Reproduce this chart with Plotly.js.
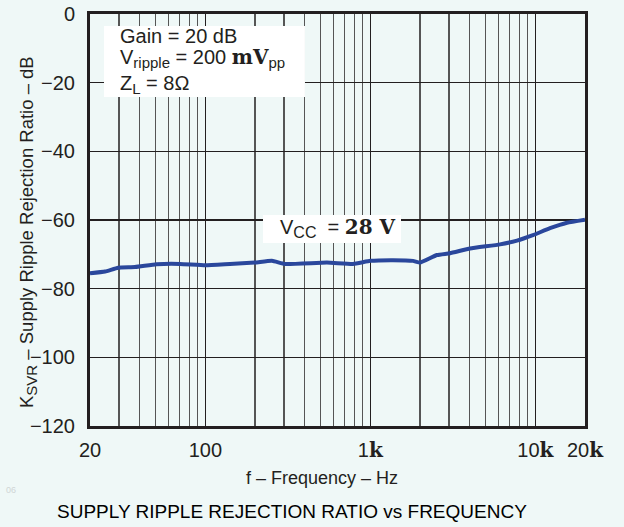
<!DOCTYPE html>
<html>
<head>
<meta charset="utf-8">
<script src="https://cdn.plot.ly/plotly-3.0.1.min.js"></script>
<style>html,body{margin:0;padding:0;background:#eff8f7;}#chart{width:624px;height:527px;}</style>
</head>
<body>
<div id="chart"></div>
<script>
// Data
const freqHz = [20, 24.7, 29.6, 37.5, 50.6, 70, 100, 141, 200, 253, 304, 546, 785, 1000, 1372, 1815, 2000, 2535, 3030, 4020, 6110, 7740, 9680, 12270, 15560, 20000];
const ksvrDb = [-75.5, -75.0, -73.9, -73.7, -72.9, -72.8, -73.2, -72.8, -72.4, -71.9, -72.8, -72.4, -72.8, -71.9, -71.7, -71.9, -72.4, -70.2, -69.7, -68.3, -67.1, -66.0, -64.4, -62.4, -60.8, -59.9];
const xTickVals = [20, 100, 1000, 10000, 20000];
const kB = '<b><span style="font-family:\'DejaVu Serif\'">k</span></b>';
const xTickText = ['20', '100', '1' + kB, '10' + kB, '20' + kB];
const xMinorVals = [30,40,50,60,70,80,90,200,300,400,500,600,700,800,900,2000,3000,4000,5000,6000,7000,8000,9000];
const yTickVals = [-120, -100, -80, -60, -40, -20, 0];

const serifB = (t) => '<b><span style="font-family:\'DejaVu Serif\'">' + t + '</span></b>';
const sub = (t, s) => '<sub><span style="font-size:' + (s || 16) + 'px">' + t + '</span></sub>';
const bg = '#eff8f7';
const ink = '#231f20';
const sans = 'Liberation Sans, Arial, sans-serif';
const narrow = 'Liberation Sans Narrow, Arial Narrow, Liberation Sans, sans-serif';

const trace = {
  x: freqHz, y: ksvrDb, type: 'scatter', mode: 'lines',
  line: {color: '#2a479c', width: 4, shape: 'spline', smoothing: 0.4},
  hoverinfo: 'skip', cliponaxis: true
};

const layout = {
  width: 624, height: 527,
  margin: {l: 90, r: 39, t: 14, b: 101},
  paper_bgcolor: bg, plot_bgcolor: bg,
  showlegend: false,
  font: {family: sans, size: 20, color: ink},
  xaxis: {
    type: 'log', range: [Math.log10(20), Math.log10(20000)],
    tickmode: 'array', tickvals: xTickVals, ticktext: xTickText,
    showgrid: true, gridcolor: ink, gridwidth: 1.3,
    minor: {tickmode: 'array', tickvals: xMinorVals, showgrid: true, gridcolor: '#555', gridwidth: 1.3, ticks: ''},
    showline: true, mirror: true, linecolor: ink, linewidth: 3,
    ticks: '', ticklabelstandoff: 4,
    tickfont: {family: sans, size: 20, color: ink},
    zeroline: false
  },
  yaxis: {
    range: [-120, 0], tickmode: 'array', tickvals: yTickVals,
    showgrid: true, gridcolor: ink, gridwidth: 1.3,
    showline: true, mirror: true, linecolor: ink, linewidth: 3,
    ticks: '', ticklabelstandoff: 8,
    tickfont: {family: sans, size: 20, color: ink},
    zeroline: false
  },
  shapes: [
    {type: 'rect', xref: 'paper', yref: 'paper', x0: 0.0283, x1: 0.4343, y0: 0.7985, y1: 0.9709, fillcolor: '#ffffff', line: {width: 0}, layer: 'above'},
    {type: 'rect', xref: 'paper', yref: 'paper', x0: 0.3495, x1: 0.6283, y0: 0.4442, y1: 0.5121, fillcolor: '#ffffff', line: {width: 0}, layer: 'above'}
  ],
  annotations: [
    {xref: 'paper', yref: 'paper', x: 0.0566, y: 0.9460, xanchor: 'left', yanchor: 'middle', showarrow: false, text: 'Gain = 20 dB', font: {family: sans, size: 20, color: ink}},
    {xref: 'paper', yref: 'paper', x: 0.0566, y: 0.892, xanchor: 'left', yanchor: 'middle', showarrow: false, text: 'V' + sub('ripple', 15) + ' = 200 ' + serifB('mV') + sub('pp', 15), font: {family: sans, size: 20, color: ink}},
    {xref: 'paper', yref: 'paper', x: 0.0566, y: 0.830, xanchor: 'left', yanchor: 'middle', showarrow: false, text: 'Z' + sub('L', 15) + ' = 8Ω', font: {family: sans, size: 20, color: ink}},
    {xref: 'paper', yref: 'paper', x: 0.3798, y: 0.4806, xanchor: 'left', yanchor: 'middle', showarrow: false, text: 'V' + sub('CC') + '  = ' + serifB('28 V'), font: {family: sans, size: 20, color: ink}},
    {xref: 'paper', yref: 'paper', x: (28 - 90) / 495, y: (426 - 232) / 412, xanchor: 'center', yanchor: 'middle', textangle: -90, showarrow: false, text: 'K' + sub('SVR', 15) + ' – Supply Ripple Rejection Ratio – dB', font: {family: sans, size: 18.5, color: ink}},
    {xref: 'paper', yref: 'paper', x: (322 - 90) / 495, y: (426 - 478) / 412, xanchor: 'center', yanchor: 'middle', showarrow: false, text: 'f – Frequency – Hz', font: {family: narrow, size: 18, color: ink}},
    {xref: 'paper', yref: 'paper', x: (292 - 90) / 495, y: (426 - 512) / 412, xanchor: 'center', yanchor: 'middle', showarrow: false, text: 'SUPPLY RIPPLE REJECTION RATIO vs FREQUENCY', font: {family: narrow, size: 19, color: '#000000'}},
    {xref: 'paper', yref: 'paper', x: (4 - 90) / 495, y: (426 - 490) / 412, xanchor: 'left', yanchor: 'middle', showarrow: false, text: '06', font: {family: sans, size: 9, color: '#cfd6d6'}}
  ]
};

Plotly.newPlot('chart', [trace], layout, {displayModeBar: false, staticPlot: true});
</script>
</body>
</html>
